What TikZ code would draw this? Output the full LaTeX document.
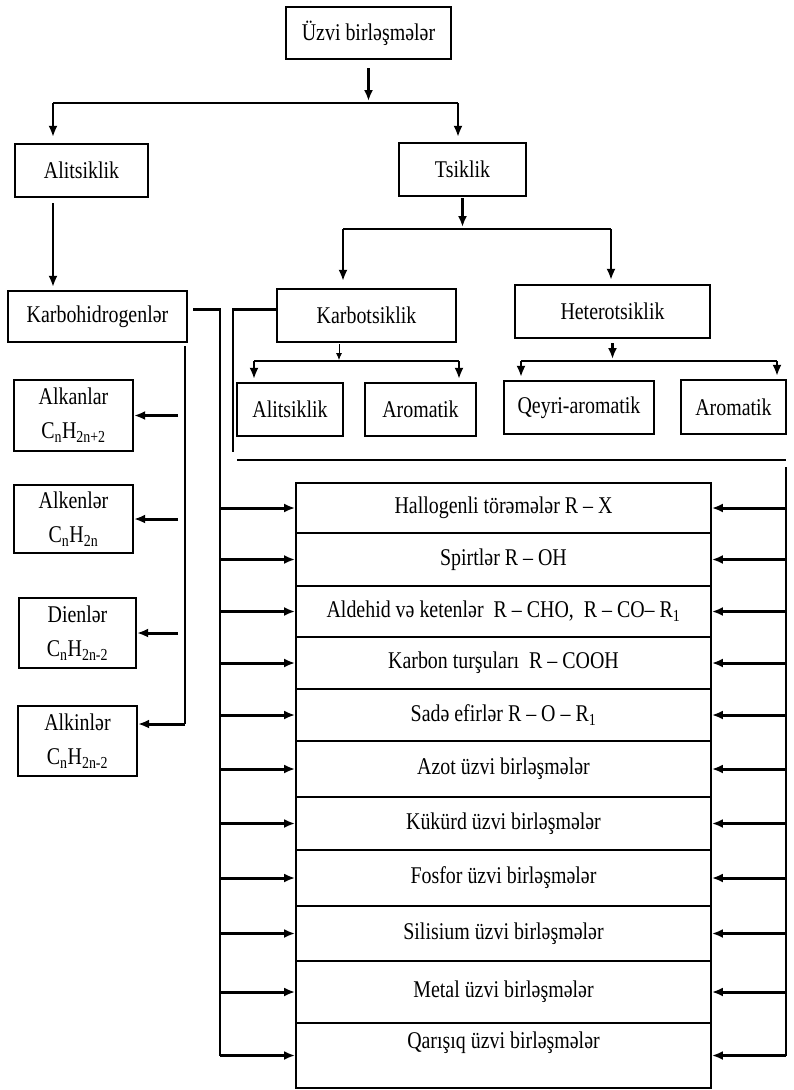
\documentclass[tikz,border=0pt]{standalone}
\usepackage{fontspec}
\setmainfont{Liberation Serif}[FakeStretch=0.83]
\usetikzlibrary{arrows.meta}

\begin{document}
\begin{tikzpicture}[x=1pt, y=-1pt, font=\fontsize{24}{34}\selectfont,
    >={Latex[length=11pt,width=9pt]},
    bx/.style 2 args={draw, line width=2.2pt, align=center, inner sep=0pt,
      minimum width=#1, minimum height=#2},
    row/.style={draw, line width=1.8pt, inner sep=0pt, minimum width=415pt, minimum height=#1},
    ln/.style={line width=2.3pt},
    arr/.style={->, line width=3pt}]
  \useasboundingbox (0,0) rectangle (794,1090);

    \node[bx={165pt}{52pt}] (uzvi) at (368.5,33) {Üzvi birləşmələr};
    \node[bx={133pt}{53pt}] (alits) at (81.5,170.5) {Alitsiklik};
    \node[bx={127pt}{53pt}] (tsik) at (462.5,169.5) {Tsiklik};
    \node[bx={179pt}{51pt}] (karbohid) at (97.5,316.5) {Karbohidrogenlər};
    \node[bx={179pt}{53pt}] (karbots) at (366.5,315.5) {Karbotsiklik};
    \node[bx={195pt}{53pt}] (heterots) at (612.5,311.5) {Heterotsiklik};
    \node[bx={106pt}{53pt}] (alits2) at (290,409.5) {Alitsiklik};
    \node[bx={111pt}{53pt}] (arom1) at (420.5,409.5) {Aromatik};
    \node[bx={150pt}{53pt}] (qeyri) at (579,407.5) {Qeyri-aromatik};
    \node[bx={105pt}{54pt}] (arom2) at (733.5,407) {Aromatik};

    \node[bx={119pt}{71pt}] (alkan) at (73.5,415.5) {Alkanlar\\C\textsubscript{n}H\textsubscript{2n+2}};
    \node[bx={119pt}{68pt}] (alken) at (73.5,519) {Alkenlər\\C\textsubscript{n}H\textsubscript{2n}};
    \node[bx={117pt}{70pt}] (dien) at (77.5,633) {Dienlər\\C\textsubscript{n}H\textsubscript{2n-2}};
    \node[bx={119pt}{70pt}] (alkin) at (77.5,741) {Alkinlər\\C\textsubscript{n}H\textsubscript{2n-2}};

    \node[row=50pt] (r1) at (503.5,508) {Hallogenli törəmələr R – X};
    \node[row=53pt] (r2) at (503.5,559.5) {Spirtlər R – OH};
    \node[row=51pt] (r3) at (503.5,611.5) {Aldehid və ketenlər\ \ R – CHO,\ \ R – CO– R\textsubscript{1}};
    \node[row=52pt] (r4) at (503.5,663) {Karbon turşuları\ \ R – COOH};
    \node[row=52pt] (r5) at (503.5,715) {Sadə efirlər R – O – R\textsubscript{1}};
    \node[row=56pt] (r6) at (503.5,769) {Azot üzvi birləşmələr};
    \node[row=53pt] (r7) at (503.5,823.5) {Kükürd üzvi birləşmələr};
    \node[row=56pt] (r8) at (503.5,878) {Fosfor üzvi birləşmələr};
    \node[row=55pt] (r9) at (503.5,933.5) {Silisium üzvi birləşmələr};
    \node[row=62pt] (r10) at (503.5,992) {Metal üzvi birləşmələr};
    \node[row=65pt, label={[inner sep=0pt, anchor=north, yshift=-10pt]north:Qarışıq üzvi birləşmələr}] (r11) at (503.5,1055.5) {};

  \coordinate (b1l) at (53,103);  \coordinate (b1r) at (458,103);
  \coordinate (b2l) at (343,229); \coordinate (b2r) at (611,229);
  \coordinate (b3l) at (254,361); \coordinate (b3r) at (459,361); \coordinate (b3m) at (339,361);
  \coordinate (b4l) at (521,361); \coordinate (b4r) at (777,361);
  \coordinate (kv) at (185,724);
  \coordinate (kr) at (220,309);
  \coordinate (cl) at (233,452);
  \coordinate (hl) at (237,460);  \coordinate (hr) at (786,460);

    \draw[ln, ->, shorten <=8pt, shorten >=2pt] (uzvi.south) -- (uzvi |- b1l);
    \draw[ln] (b1l) -- (b1r);
    \draw[ln, ->, shorten >=6pt] (b1l) -- (b1l |- alits.north);
    \draw[ln, ->, shorten >=5pt] (b1r) -- (b1r |- tsik.north);
    \draw[ln, ->, shorten <=5pt, shorten >=3pt] (b1l |- alits.south) -- (b1l |- karbohid.north);

    \draw[ln, ->, shorten <=1pt, shorten >=2pt] (tsik.south) -- (tsik |- b2l);
    \draw[ln] (b2l) -- (b2r);
    \draw[ln, ->, shorten >=7pt] (b2l) -- (b2l |- karbots.north);
    \draw[ln, ->, shorten >=4pt] (b2r) -- (b2r |- heterots.north);

    \draw[thick, ->, >={Latex[length=7pt,width=6pt]}, shorten <=1pt, shorten >=1pt] (b3m |- karbots.south) -- (b3m);
    \draw[ln] (b3l) -- (b3r);
    \draw[ln, ->, shorten >=3pt] (b3l) -- (b3l |- alits2.north);
    \draw[ln, ->, shorten >=3pt] (b3r) -- (b3r |- arom1.north);

    \draw[ln, ->, shorten <=4pt, shorten >=2pt] (heterots.south) -- (heterots |- b4l);
    \draw[ln] (b4l) -- (b4r);
    \draw[ln, ->, shorten >=3pt] (b4l) -- (b4l |- qeyri.north);
    \draw[ln, ->, shorten >=3pt] (b4r) -- (b4r |- arom2.north);

    \draw[ln, shorten <=3pt] (kv |- karbohid.south) -- (kv);
    \draw[arr, shorten <=7pt] (kv |- alkan.east) -- (alkan.east);
    \draw[arr, shorten <=7pt] (kv |- alken.east) -- (alken.east);
    \draw[arr, shorten <=7pt] (kv |- dien.east) -- (dien.east);
    \draw[arr] (kv) -- (kv -| alkin.east);

    \draw[ln] ([yshift=6pt]karbots.west) -| (cl);
    \draw[ln] (hl) -- (hr);
    \draw[ln] ([yshift=-7pt]hr) -- (hr |- r11.east);

    \draw[ln, shorten <=5pt] ([yshift=7pt]karbohid.east) -| (kr |- r11.west);
    \draw[arr] (kr |- r1.west) -- (r1.west);
    \draw[arr] (kr |- r2.west) -- (r2.west);
    \draw[arr] (kr |- r3.west) -- (r3.west);
    \draw[arr] (kr |- r4.west) -- (r4.west);
    \draw[arr] (kr |- r5.west) -- (r5.west);
    \draw[arr] (kr |- r6.west) -- (r6.west);
    \draw[arr] (kr |- r7.west) -- (r7.west);
    \draw[arr] (kr |- r8.west) -- (r8.west);
    \draw[arr] (kr |- r9.west) -- (r9.west);
    \draw[arr] (kr |- r10.west) -- (r10.west);
    \draw[arr] (kr |- r11.west) -- (r11.west);

    \draw[arr] (hr |- r1.east) -- (r1.east);
    \draw[arr] (hr |- r2.east) -- (r2.east);
    \draw[arr] (hr |- r3.east) -- (r3.east);
    \draw[arr] (hr |- r4.east) -- (r4.east);
    \draw[arr] (hr |- r5.east) -- (r5.east);
    \draw[arr] (hr |- r6.east) -- (r6.east);
    \draw[arr] (hr |- r7.east) -- (r7.east);
    \draw[arr] (hr |- r8.east) -- (r8.east);
    \draw[arr] (hr |- r9.east) -- (r9.east);
    \draw[arr] (hr |- r10.east) -- (r10.east);
    \draw[arr] (hr |- r11.east) -- (r11.east);
\end{tikzpicture}
\end{document}
